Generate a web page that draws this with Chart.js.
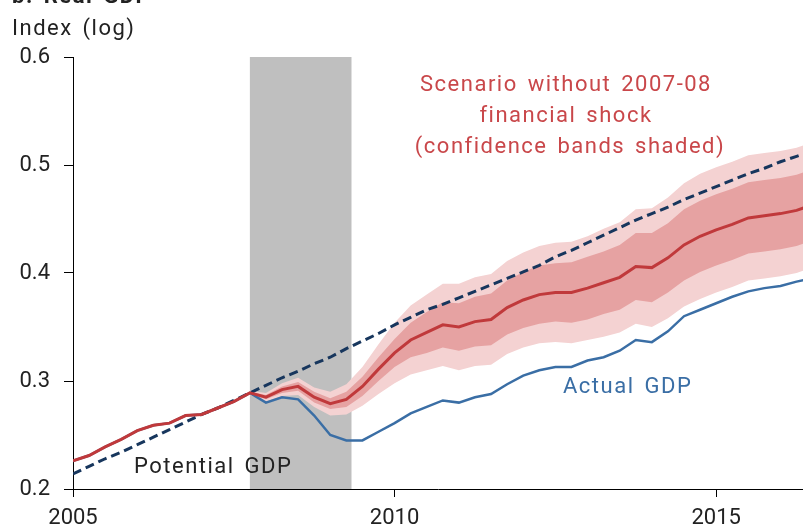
<!DOCTYPE html>
<html>
<head>
<meta charset="utf-8">
<script src="https://cdn.jsdelivr.net/npm/chart.js@4/dist/chart.umd.min.js"></script>
<style>
  html, body { margin: 0; padding: 0; background: #fff; }
  #wrap { position: relative; width: 803px; height: 531px; }
</style>
</head>
<body>
<div id="wrap"><canvas id="chart"></canvas></div>
<script>
// quarters as decimal years (2005Q1 .. 2016Q3)
const years = [2005, 2005.25, 2005.5, 2005.75, 2006, 2006.25, 2006.5, 2006.75,
    2007, 2007.25, 2007.5, 2007.75, 2008, 2008.25, 2008.5, 2008.75,
    2009, 2009.25, 2009.5, 2009.75, 2010, 2010.25, 2010.5, 2010.75,
    2011, 2011.25, 2011.5, 2011.75, 2012, 2012.25, 2012.5, 2012.75,
    2013, 2013.25, 2013.5, 2013.75, 2014, 2014.25, 2014.5, 2014.75,
    2015, 2015.25, 2015.5, 2015.75, 2016, 2016.25, 2016.5]

const actualGdp = [0.226, 0.231, 0.239, 0.246, 0.254, 0.259, 0.261, 0.268,
    0.269, 0.275, 0.281, 0.289, 0.280, 0.285, 0.283, 0.268,
    0.250, 0.245, 0.245, 0.253, 0.261, 0.270, 0.276, 0.282,
    0.280, 0.285, 0.288, 0.297, 0.305, 0.310, 0.313, 0.313,
    0.319, 0.322, 0.328, 0.338, 0.336, 0.346, 0.360, 0.366,
    0.372, 0.378, 0.383, 0.386, 0.388, 0.392, 0.395]

const scenario = [0.226, 0.231, 0.239, 0.246, 0.254, 0.259, 0.261, 0.268,
    0.269, 0.275, 0.281, 0.289, 0.285, 0.292, 0.295, 0.285,
    0.279, 0.283, 0.295, 0.311, 0.326, 0.338, 0.345, 0.352,
    0.350, 0.355, 0.357, 0.368, 0.375, 0.380, 0.382, 0.382,
    0.386, 0.391, 0.396, 0.406, 0.405, 0.414, 0.426, 0.434,
    0.440, 0.445, 0.451, 0.453, 0.455, 0.458, 0.463]

const potentialGdp = [0.214, 0.221, 0.228, 0.234, 0.241, 0.248, 0.255, 0.262,
    0.269, 0.275, 0.282, 0.289, 0.296, 0.303, 0.309, 0.316,
    0.322, 0.330, 0.337, 0.344, 0.352, 0.359, 0.366, 0.371,
    0.377, 0.383, 0.389, 0.395, 0.401, 0.407, 0.415, 0.421,
    0.428, 0.435, 0.442, 0.449, 0.455, 0.461, 0.468, 0.474,
    0.480, 0.486, 0.492, 0.497, 0.503, 0.508, 0.513]

// confidence bands, from 2007Q4 on
const outerHi = [null, null, null, null, null, null, null, null, null, null, null,
    0.291, 0.289, 0.298, 0.303, 0.294, 0.290, 0.297, 0.313, 0.334, 0.354,
    0.370, 0.380, 0.390, 0.390, 0.396, 0.399, 0.411, 0.419, 0.425, 0.428,
    0.429, 0.434, 0.441, 0.447, 0.459, 0.460, 0.470, 0.483, 0.492, 0.498,
    0.503, 0.509, 0.511, 0.513, 0.516, 0.521]
const innerHi = [null, null, null, null, null, null, null, null, null, null, null,
    0.290, 0.287, 0.295, 0.299, 0.290, 0.284, 0.290, 0.304, 0.322, 0.339,
    0.354, 0.364, 0.373, 0.372, 0.378, 0.381, 0.393, 0.401, 0.407, 0.409,
    0.410, 0.415, 0.420, 0.426, 0.437, 0.437, 0.446, 0.459, 0.467, 0.473,
    0.478, 0.484, 0.486, 0.488, 0.491, 0.496]
const innerLo = [null, null, null, null, null, null, null, null, null, null, null,
    0.288, 0.283, 0.289, 0.291, 0.280, 0.274, 0.276, 0.286, 0.300, 0.313,
    0.322, 0.326, 0.331, 0.328, 0.332, 0.333, 0.343, 0.349, 0.353, 0.355,
    0.354, 0.357, 0.362, 0.366, 0.375, 0.373, 0.382, 0.393, 0.401, 0.407,
    0.412, 0.418, 0.420, 0.422, 0.425, 0.430]
const outerLo = [null, null, null, null, null, null, null, null, null, null, null,
    0.287, 0.281, 0.286, 0.287, 0.276, 0.268, 0.269, 0.277, 0.288, 0.298,
    0.306, 0.310, 0.314, 0.310, 0.314, 0.315, 0.325, 0.331, 0.335, 0.336,
    0.335, 0.338, 0.341, 0.345, 0.353, 0.350, 0.358, 0.369, 0.376, 0.382,
    0.387, 0.393, 0.395, 0.397, 0.400, 0.405]

const recession = [2007.75, 2009.33]
const xTicks = [2005, 2010, 2015]
const yTicks = [0.2, 0.3, 0.4, 0.5, 0.6]

const font = 'Roboto, "Open Sans", sans-serif'

function points(values) {
    return years.map((x, i) => ({x: x, y: values[i]})).filter(p => p.y !== null)
}

function band(values, fill, color, order) {
    return {
        data: points(values),
        borderWidth: 0,
        pointRadius: 0,
        backgroundColor: color,
        fill: fill,
        order: order
    }
}

function line(values, color, width, dash, order) {
    return {
        data: points(values),
        borderColor: color,
        borderWidth: width,
        borderDash: dash,
        pointRadius: 0,
        fill: false,
        tension: 0,
        order: order
    }
}

const recessionShade = {
    id: 'recessionShade',
    beforeDatasetsDraw(chart) {
        const {ctx, chartArea, scales} = chart
        const x0 = scales.x.getPixelForValue(recession[0])
        const x1 = scales.x.getPixelForValue(recession[1])
        ctx.save()
        ctx.fillStyle = '#bfbfbf'
        ctx.fillRect(x0, chartArea.top, x1 - x0, chartArea.bottom - chartArea.top)
        ctx.restore()
    }
}

const labels = {
    id: 'labels',
    afterDraw(chart) {
        const ctx = chart.ctx
        ctx.save()
        ctx.letterSpacing = '1.5px'
        ctx.wordSpacing = '3px'
        ctx.textBaseline = 'alphabetic'
        // cut-off panel title
        ctx.font = 'bold 22px ' + font
        ctx.fillStyle = '#222'
        ctx.textAlign = 'left'
        ctx.fillText('b. Real GDP', 12, 3)
        ctx.font = '22px ' + font
        ctx.fillText('Index (log)', 12, 35)
        ctx.fillText('Potential GDP', 134, 473)
        ctx.fillStyle = '#3a6ea5'
        ctx.fillText('Actual GDP', 563, 393)
        ctx.fillStyle = '#c9474a'
        ctx.textAlign = 'center'
        ctx.fillText('Scenario without 2007-08', 566, 91)
        ctx.fillText('financial shock', 566, 122)
        ctx.fillText('(confidence bands shaded)', 570, 153)
        ctx.restore()
    }
}

new Chart(document.getElementById('chart'), {
    type: 'line',
    data: {
        datasets: [
            band(outerLo, false, 'rgba(0,0,0,0)', 5),
            band(outerHi, '-1', '#f4d2d2', 5),
            band(innerLo, false, 'rgba(0,0,0,0)', 4),
            band(innerHi, '-1', '#e6a2a2', 4),
            line(potentialGdp, '#17365d', 3, [9, 5], 1),
            line(scenario, '#c0393b', 3, [], 0),
            line(actualGdp, '#3a6ea5', 2.5, [], 2)
        ]
    },
    options: {
        responsive: true,
        maintainAspectRatio: false,
        animation: false,
        layout: {padding: {top: 57, left: 0, right: 0, bottom: 0}},
        plugins: {
            legend: {display: false},
            tooltip: {enabled: false}
        },
        scales: {
            x: {
                type: 'linear',
                min: 2005,
                max: 2016.35,
                afterBuildTicks: scale => { scale.ticks = xTicks.map(v => ({value: v})) },
                afterFit: scale => { scale.height = 42 },
                grid: {drawOnChartArea: false, tickLength: 8, color: '#000'},
                border: {color: '#000', width: 1},
                ticks: {
                    color: '#222',
                    padding: 8,
                    maxRotation: 0,
                    font: {family: font, size: 22},
                    callback: v => String(v)
                }
            },
            y: {
                min: 0.2,
                max: 0.6,
                afterBuildTicks: scale => { scale.ticks = yTicks.map(v => ({value: v})) },
                afterFit: scale => { scale.width = 73 },
                grid: {drawOnChartArea: false, tickLength: 9, color: '#000'},
                border: {color: '#000', width: 1},
                ticks: {
                    color: '#222',
                    padding: 14,
                    font: {family: font, size: 22},
                    callback: v => v.toFixed(1)
                }
            }
        }
    },
    plugins: [recessionShade, labels]
})
</script>
</body>
</html>
